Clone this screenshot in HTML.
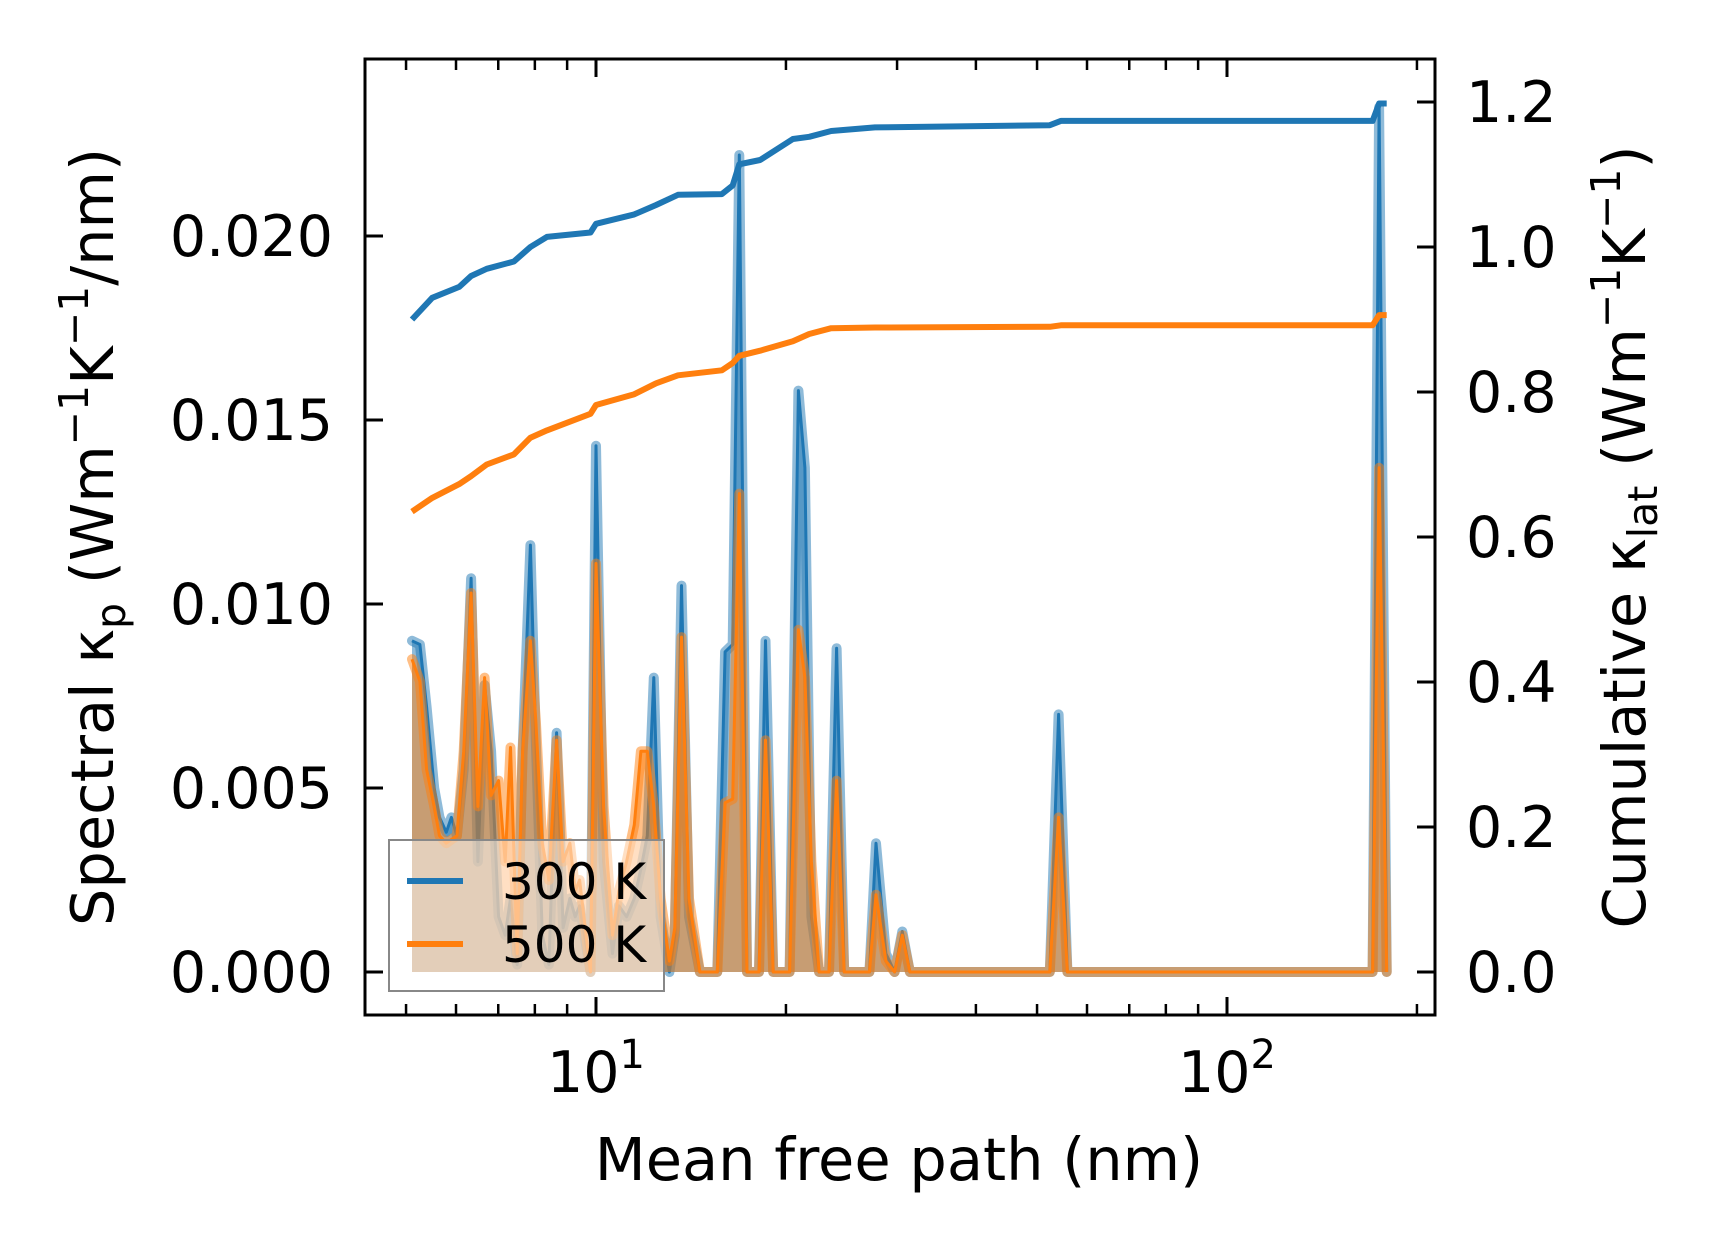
<!DOCTYPE html>
<html><head><meta charset="utf-8">
<style>
html,body{margin:0;padding:0;background:#fff;}
svg{display:block;font-family:"DejaVu Sans","Liberation Sans",sans-serif;}
</style></head>
<body>
<svg id="chart" width="1716" height="1254" viewBox="0 0 1716 1254" xmlns="http://www.w3.org/2000/svg">
<rect width="1716" height="1254" fill="#fff"/>
<defs><clipPath id="plotclip"><rect x="365" y="59" width="1070" height="956"/></clipPath></defs>
<g id="plot" clip-path="url(#plotclip)"></g>
<g id="axes"></g>
</svg>
<script>
// spectral data
const mfpSpec = [5.11,5.26,5.39,5.54,5.65,5.79,5.90,6.02,6.17,6.34,6.50,6.66,6.82,7.01,7.18,7.32,7.50,7.65,7.87,8.03,8.22,8.42,8.66,8.87,9.09,9.27,9.42,9.80,10.0,10.28,10.62,10.87,11.18,11.50,11.78,12.06,12.35,12.66,13.07,13.33,13.66,14.04,14.61,15.57,16.02,16.47,16.87,17.35,18.13,18.56,19.09,20.27,20.93,21.43,21.95,22.57,23.40,24.06,24.74,27.12,27.78,28.80,29.73,30.58,31.44,52.39,54.09,55.85,170.1,174.2,179.1];
const spec300 = [0.0090,0.0089,0.0072,0.0050,0.0042,0.0038,0.0042,0.0037,0.0055,0.0107,0.0030,0.0078,0.0060,0.0015,0.0010,0.0020,0.0002,0.0060,0.0116,0.0062,0.0010,0.0002,0.0065,0.0012,0.0020,0.0015,0.0018,0.0000,0.0143,0.0030,0.0005,0.0018,0.0015,0.0020,0.0028,0.0037,0.0080,0.0015,0.0000,0.0010,0.0105,0.0015,0.0000,0.0000,0.0087,0.0089,0.0222,0.0000,0.0000,0.0090,0.0000,0.0000,0.0158,0.0137,0.0015,0.0000,0.0000,0.0088,0.0000,0.0000,0.0035,0.0005,0.0000,0.0011,0.0000,0.0000,0.0070,0.0000,0.0000,0.0235,0.0000];
const spec500 = [0.0085,0.0079,0.0055,0.0045,0.0037,0.0035,0.0036,0.0037,0.0060,0.0103,0.0045,0.0080,0.0048,0.0052,0.0030,0.0061,0.0005,0.0060,0.0090,0.0068,0.0035,0.0025,0.0063,0.0030,0.0035,0.0022,0.0025,0.0000,0.0111,0.0045,0.0010,0.0022,0.0030,0.0040,0.0060,0.0060,0.0045,0.0020,0.0003,0.0012,0.0091,0.0020,0.0000,0.0000,0.0046,0.0047,0.0130,0.0000,0.0000,0.0063,0.0000,0.0000,0.0093,0.0080,0.0030,0.0000,0.0000,0.0052,0.0000,0.0000,0.0021,0.0003,0.0000,0.0010,0.0000,0.0000,0.0042,0.0000,0.0000,0.0137,0.0000];
// cumulative data
const mfpCum = [5.11,5.50,6.07,6.34,6.71,7.41,7.87,8.36,9.80,10.0,11.50,12.45,13.49,15.83,16.47,16.87,18.20,20.51,21.77,23.59,27.67,52.39,54.53,170.1,174.2,179.1];
const cum300 = [0.900,0.930,0.945,0.960,0.970,0.980,1.000,1.014,1.020,1.032,1.045,1.058,1.072,1.073,1.085,1.114,1.120,1.149,1.152,1.160,1.165,1.168,1.174,1.174,1.198,1.198];
const cum500 = [0.635,0.654,0.673,0.684,0.700,0.714,0.737,0.747,0.770,0.782,0.797,0.812,0.823,0.830,0.840,0.850,0.857,0.870,0.880,0.888,0.889,0.890,0.892,0.892,0.906,0.906];
const leftTicks = [0,0.005,0.010,0.015,0.020];
const leftTickLabels = ["0.000","0.005","0.010","0.015","0.020"];
const rightTicks = [0,0.2,0.4,0.6,0.8,1.0,1.2];
const rightTickLabels = ["0.0","0.2","0.4","0.6","0.8","1.0","1.2"];
const xMajor = [10,100];
const xMajorExp = ["1","2"];
const xMinor = [5,6,7,8,9,20,30,40,50,60,70,80,90,200];

const L=365,R=1435,T=59,B=1015;
const X = v => 596 + (Math.log10(v)-1)*631;
const YL = v => 972 - v/0.005*184;
const YR = v => 972 - v/0.2*145;
const NS="http://www.w3.org/2000/svg";
const plot=document.getElementById('plot'), axes=document.getElementById('axes');
function mk(tag,attrs,parent){const e=document.createElementNS(NS,tag);for(const k in attrs)e.setAttribute(k,attrs[k]);parent.appendChild(e);return e;}
function pts(xs,ys,fy){return xs.map((x,i)=>X(x).toFixed(1)+','+fy(ys[i]).toFixed(1)).join(' ');}

const C3='#1f77b4',C5='#ff7f0e';
[[spec300,C3,'300k'],[spec500,C5,'500k']].forEach(([s,c,n])=>{
  const p=pts(mfpSpec,s,YL);
  const area=mk('polygon',{points:X(mfpSpec[0])+','+YL(0)+' '+p+' '+X(mfpSpec[mfpSpec.length-1])+','+YL(0),fill:c,'fill-opacity':0.5},plot);
  
  
  const th=mk('polyline',{points:p,fill:'none',stroke:c,'stroke-opacity':0.5,'stroke-width':10,'stroke-linejoin':'round','stroke-linecap':'round'},plot);
  
  
  const tl=mk('polyline',{points:p,fill:'none',stroke:c,'stroke-width':3,'stroke-linejoin':'round'},plot);
  
  
});
[[cum300,C3,'300k'],[cum500,C5,'500k']].forEach(([s,c,n])=>{
  const l=mk('polyline',{points:pts(mfpCum,s,YR),fill:'none',stroke:c,'stroke-width':6,'stroke-linejoin':'round'},plot);
  
  
});

// legend
const lg=mk('g',{},axes);


mk('rect',{x:389,y:840,width:275,height:151,fill:'#fff','fill-opacity':0.5,stroke:'#888','stroke-width':2},lg);
[[C3,'300 K',881],[C5,'500 K',944]].forEach(([c,t,y])=>{
  const e=mk('line',{x1:407,x2:463,y1:y,y2:y,stroke:c,'stroke-width':6},lg);
  
  
  const tx=mk('text',{x:502,y:y+18,'font-size':50,fill:'#000'},lg);tx.textContent=t;
  
  
});

// frame
const fr=mk('rect',{x:L,y:T,width:R-L,height:B-T,fill:'none',stroke:'#000','stroke-width':3},axes);


leftTicks.forEach((v,i)=>{const y=YL(v);
  mk('line',{x1:L,x2:L+18,y1:y,y2:y,stroke:'#000','stroke-width':3},axes);
  const t=mk('text',{x:333,y:y+20,'font-size':57,'text-anchor':'end'},axes);t.textContent=leftTickLabels[i];
  
  
});
rightTicks.forEach((v,i)=>{const y=YR(v);
  mk('line',{x1:R-18,x2:R,y1:y,y2:y,stroke:'#000','stroke-width':3},axes);
  const t=mk('text',{x:1466,y:y+20,'font-size':57},axes);t.textContent=rightTickLabels[i];
  
  
});
xMajor.forEach((v,i)=>{const x=X(v);
  mk('line',{x1:x,x2:x,y1:B,y2:B-18,stroke:'#000','stroke-width':3},axes);
  mk('line',{x1:x,x2:x,y1:T,y2:T+18,stroke:'#000','stroke-width':3},axes);
  const t=mk('text',{x:x,y:1092,'font-size':57,'text-anchor':'middle'},axes);
  
  
  t.textContent='10';
  const sp=mk('tspan',{dy:-24,'font-size':40},t);sp.textContent=xMajorExp[i];
});
xMinor.forEach(v=>{const x=X(v);
  mk('line',{x1:x,x2:x,y1:B,y2:B-11,stroke:'#000','stroke-width':2.5},axes);
  mk('line',{x1:x,x2:x,y1:T,y2:T+11,stroke:'#000','stroke-width':2.5},axes);
});
</script>
<svg style="position:absolute;left:0;top:0" width="1716" height="1254">
<text x="899" y="1180" font-size="59" text-anchor="middle" font-family="DejaVu Sans, Liberation Sans, sans-serif">Mean free path (nm)</text>
<text transform="translate(113,537) rotate(-90)" font-size="59" text-anchor="middle" font-family="DejaVu Sans, Liberation Sans, sans-serif">Spectral κ<tspan font-size="41" dy="12">p</tspan><tspan dy="-12"> (Wm</tspan><tspan font-size="41" dy="-25">−1</tspan><tspan dy="25">K</tspan><tspan font-size="41" dy="-25">−1</tspan><tspan dy="25">/nm)</tspan></text>
<text transform="translate(1645,537) rotate(-90)" font-size="59" text-anchor="middle" font-family="DejaVu Sans, Liberation Sans, sans-serif">Cumulative κ<tspan font-size="41" dy="12">lat</tspan><tspan dy="-12"> (Wm</tspan><tspan font-size="41" dy="-25">−1</tspan><tspan dy="25">K</tspan><tspan font-size="41" dy="-25">−1</tspan><tspan dy="25">)</tspan></text>
</svg>
</body></html>
